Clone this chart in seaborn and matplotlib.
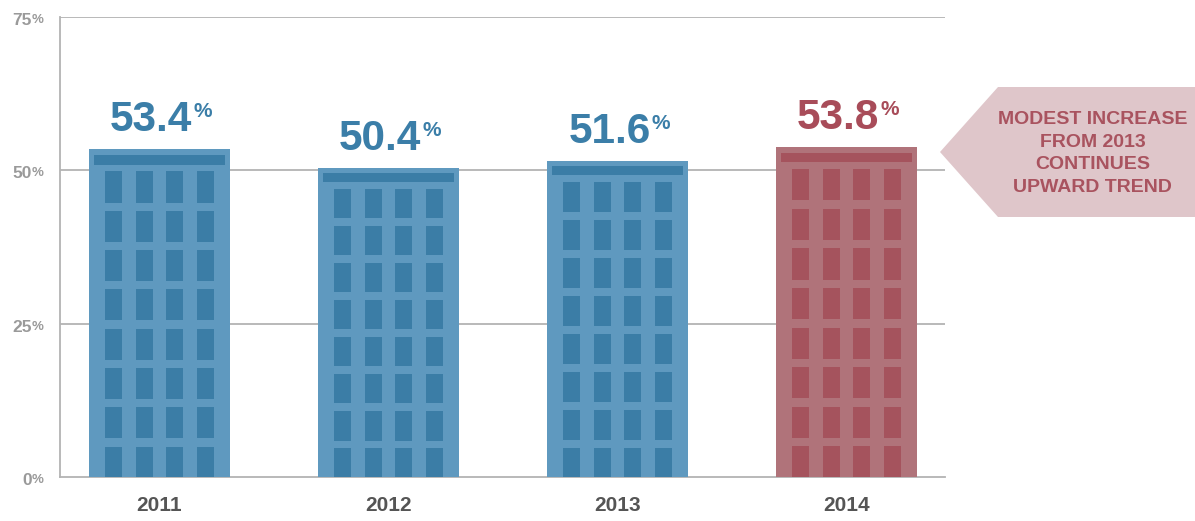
import matplotlib
matplotlib.use("Agg")
import matplotlib.pyplot as plt
import matplotlib.patches as mpatches
import matplotlib.transforms as mtransforms
import seaborn as sns
import pandas as pd

# ---- data ----
years = ["2011", "2012", "2013", "2014"]
values = [53.4, 50.4, 51.6, 53.8]
value_labels = ["53.4", "50.4", "51.6", "53.8"]
ytick_values = [0, 25, 50, 75]
ytick_labels = ["0", "25", "50", "75"]
callout_lines = ["MODEST INCREASE", "FROM 2013", "CONTINUES", "UPWARD TREND"]

# ---- styles ----
bar_colors = ["#5f99bf", "#5f99bf", "#5f99bf", "#b0737a"]
window_colors = ["#3b7da6", "#3b7da6", "#3b7da6", "#a5535d"]
label_colors = ["#3b7ea8", "#3b7ea8", "#3b7ea8", "#a84c59"]
grid_color = "#b3b3b3"
tick_color = "#9a9a9a"
xtick_color = "#555555"
callout_bg = "#dfc6ca"
callout_fg = "#a9535f"

sns.set_theme(style="white")
plt.rcParams["font.family"] = ["Liberation Sans", "DejaVu Sans"]

W, H = 1195, 521
fig = plt.figure(figsize=(W / 100, H / 100), dpi=100)
ax = fig.add_axes([60 / W, 1 - 477 / H, (945 - 60) / W, (477 - 17) / H])

df = pd.DataFrame({"year": years, "value": values})
sns.barplot(data=df, x="year", y="value", hue="year", palette=bar_colors,
            legend=False, width=0.616, ax=ax, saturation=1, zorder=3,
            linewidth=0, edgecolor="none")

ax.set_xlim(-0.434, 3.43)
ax.set_ylim(0, 75)

# gridlines
for v in ytick_values[1:]:
    ax.axhline(v, color=grid_color, lw=1.3, zorder=1)

for s in ["top", "right"]:
    ax.spines[s].set_visible(False)
for s in ["left", "bottom"]:
    ax.spines[s].set_color(grid_color)
    ax.spines[s].set_linewidth(1.3)
    ax.spines[s].set_zorder(2)

ax.set_xlabel("")
ax.set_ylabel("")
ax.set_yticks(ytick_values)
ax.set_yticklabels([])
ax.tick_params(axis="y", length=0)
ax.tick_params(axis="x", length=0, pad=14)
ax.set_xticks(range(len(years)))
ax.set_xticklabels(years, fontsize=15, fontweight="bold", color=xtick_color)

# y tick labels with small % sign
blend = mtransforms.blended_transform_factory(ax.transAxes, ax.transData)
for v, lab in zip(ytick_values, ytick_labels):
    t1 = mtransforms.offset_copy(blend, fig=fig, x=-28, y=-8, units="dots")
    ax.text(0, v, lab, transform=t1, ha="right", va="baseline",
            fontsize=12.5, fontweight="bold", color=tick_color, clip_on=False)
    t2 = mtransforms.offset_copy(blend, fig=fig, x=-28, y=-6, units="dots")
    ax.text(0, v, "%", transform=t2, ha="left", va="baseline",
            fontsize=9.5, fontweight="bold", color=tick_color, clip_on=False)

# building windows + value labels
bars = [p for p in ax.patches if isinstance(p, mpatches.Rectangle)][:len(values)]
for i, p in enumerate(bars):
    x0 = p.get_x()
    w = p.get_width()
    h = p.get_height()
    cx = x0 + w / 2
    top = h
    wc = window_colors[i]
    # top strip
    ax.add_patch(mpatches.Rectangle((x0 + 0.0355 * w, top - 0.046 * h),
                                    w * (1 - 2 * 0.0355), 0.0285 * h,
                                    facecolor=wc, edgecolor="none", zorder=4))
    # windows
    for off in [-0.326, -0.106, 0.106, 0.326]:
        for r in range(8):
            wtop = top - (0.067 + r * 0.12) * h
            wbot = max(wtop - 0.095 * h, 0)
            ax.add_patch(mpatches.Rectangle((cx + off * w - 0.06 * w, wbot),
                                            0.12 * w, wtop - wbot,
                                            facecolor=wc, edgecolor="none", zorder=4))
    # value label
    t1 = mtransforms.offset_copy(ax.transData, fig=fig, x=33, y=18, units="dots")
    ax.text(cx, top, value_labels[i], transform=t1, ha="right", va="baseline",
            fontsize=30.5, fontweight="bold", color=label_colors[i], zorder=5)
    t2 = mtransforms.offset_copy(ax.transData, fig=fig, x=34, y=32, units="dots")
    ax.text(cx, top, "%", transform=t2, ha="left", va="baseline",
            fontsize=15, fontweight="bold", color=label_colors[i], zorder=5)

# callout arrow
pts = [(940, 152), (998, 87), (1200, 87), (1200, 217), (998, 217)]
poly = mpatches.Polygon([(x / W, 1 - y / H) for x, y in pts], closed=True,
                        transform=fig.transFigure, facecolor=callout_bg,
                        edgecolor="none", clip_on=False, zorder=0)
fig.patches.append(poly)
fig.text(1092.5 / W, 1 - 153.5 / H, "\n".join(callout_lines), ha="center",
         va="center", fontsize=14, fontweight="bold", color=callout_fg,
         linespacing=1.42, multialignment="center")

fig.savefig("out.png", dpi=100)
